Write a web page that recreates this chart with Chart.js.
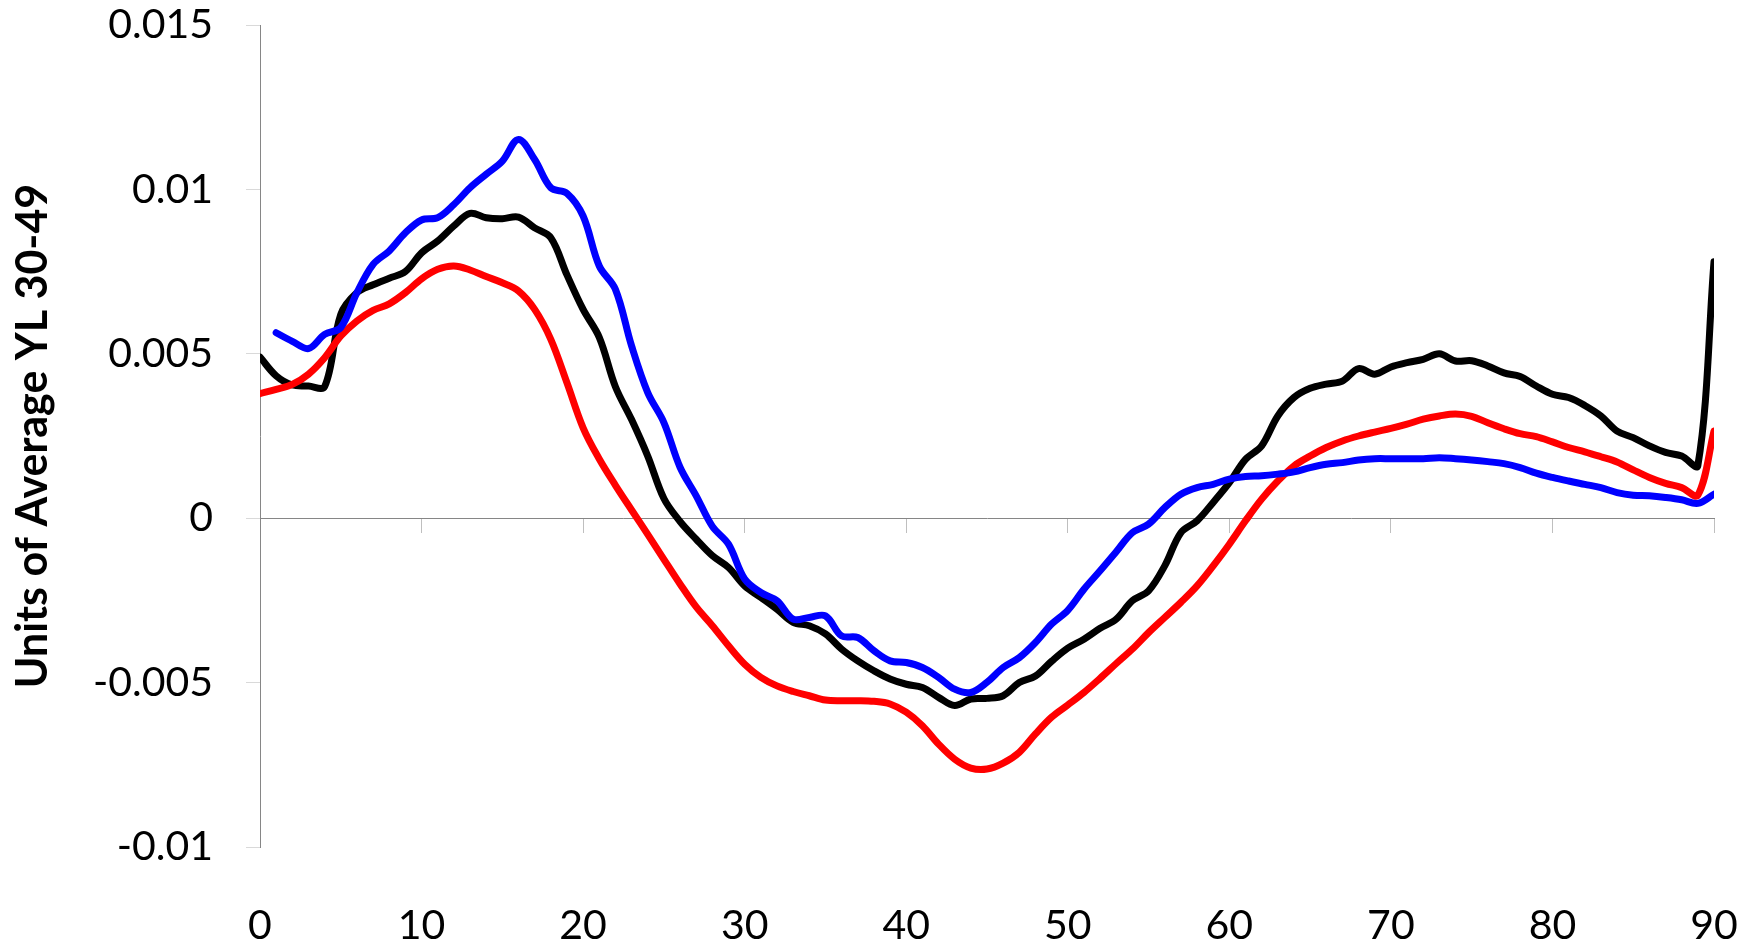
<!DOCTYPE html>
<html>
<head>
<meta charset="utf-8">
<script src="https://cdn.jsdelivr.net/npm/chart.js@4.4.0/dist/chart.umd.min.js"></script>
<style>
  html, body { margin: 0; padding: 0; background: #fff; }
  #wrap { width: 1754px; height: 946px; }
</style>
</head>
<body>
<div id="wrap"><canvas id="ylChart" width="1754" height="946"></canvas></div>
<script>
// ages on the x axis
const ages = [
    0, 1, 2, 3, 4, 5, 6, 7, 8, 9,
    10, 11, 12, 13, 14, 15, 16, 17, 18, 19,
    20, 21, 22, 23, 24, 25, 26, 27, 28, 29,
    30, 31, 32, 33, 34, 35, 36, 37, 38, 39,
    40, 41, 42, 43, 44, 45, 46, 47, 48, 49,
    50, 51, 52, 53, 54, 55, 56, 57, 58, 59,
    60, 61, 62, 63, 64, 65, 66, 67, 68, 69,
    70, 71, 72, 73, 74, 75, 76, 77, 78, 79,
    80, 81, 82, 83, 84, 85, 86, 87, 88, 89,
    90
];

// black curve
const blackSeries = [
    0.0049, 0.00433, 0.00405, 0.00402, 0.0040, 0.0062, 0.00686, 0.0071, 0.0073, 0.0075,
    0.00807, 0.00843, 0.00889, 0.00927, 0.00914, 0.00911, 0.00916, 0.00883, 0.00853, 0.0074,
    0.00635, 0.0055, 0.0040, 0.0030, 0.00189, 0.0006, -0.0001, -0.00064, -0.00114, -0.0015,
    -0.00206, -0.00241, -0.00277, -0.00317, -0.00327, -0.00352, -0.00398, -0.00434, -0.00464, -0.00489,
    -0.00505, -0.00515, -0.00545, -0.0057, -0.0055, -0.00548, -0.0054, -0.0050, -0.0048, -0.00435,
    -0.00395, -0.00368, -0.00335, -0.00307, -0.00251, -0.00221, -0.00145, -0.00044, -0.00008, 0.00048,
    0.00108, 0.00179, 0.0022, 0.00311, 0.00367, 0.00395, 0.00408, 0.00417, 0.00455, 0.00438,
    0.0046, 0.00473, 0.00483, 0.0050, 0.00478, 0.00479, 0.00463, 0.00442, 0.00431, 0.00402,
    0.00377, 0.00367, 0.00343, 0.00311, 0.00265, 0.00245, 0.0022, 0.0020, 0.00189, 0.0016,
    0.0078
];

// red curve
const redSeries = [
    0.00379, 0.00392, 0.00407, 0.00438, 0.00488, 0.00554, 0.0060, 0.00632, 0.00652, 0.00686,
    0.00728, 0.00757, 0.00767, 0.00755, 0.00735, 0.00716, 0.00691, 0.00635, 0.00544, 0.00412,
    0.00275, 0.0018, 0.0010, 0.00025, -0.00049, -0.00125, -0.0020, -0.0027, -0.00327, -0.00388,
    -0.00444, -0.00484, -0.0051, -0.00527, -0.0054, -0.00553, -0.00555, -0.00555, -0.00557, -0.00565,
    -0.0059, -0.00631, -0.00687, -0.00733, -0.0076, -0.00763, -0.00745, -0.00712, -0.00656, -0.00605,
    -0.00568, -0.0053, -0.00487, -0.00442, -0.00398, -0.00348, -0.00302, -0.00256, -0.00206, -0.00145,
    -0.00079, -0.00008, 0.00058, 0.00113, 0.00159, 0.00189, 0.00215, 0.00235, 0.0025, 0.00262,
    0.00273, 0.00286, 0.00301, 0.00311, 0.00317, 0.0031, 0.0029, 0.00272, 0.00257, 0.00248,
    0.00232, 0.00215, 0.00202, 0.00187, 0.00171, 0.00147, 0.00124, 0.00106, 0.00093, 0.0007,
    0.00265
];

// blue curve (no value at age 0)
const blueSeries = [
    null, 0.00564, 0.00538, 0.00516, 0.00559, 0.0058, 0.00686, 0.00772, 0.00813, 0.00868,
    0.00907, 0.00914, 0.00954, 0.01005, 0.01046, 0.01086, 0.01152, 0.01091, 0.01005, 0.00988,
    0.00919, 0.00767, 0.00696, 0.00524, 0.00382, 0.00291, 0.00155, 0.00068, -0.00025, -0.00079,
    -0.00185, -0.00226, -0.00251, -0.00307, -0.00302, -0.00297, -0.00358, -0.00363, -0.00403, -0.00434,
    -0.00439, -0.00454, -0.00484, -0.0052, -0.0053, -0.00499, -0.00454, -0.00424, -0.00378, -0.00322,
    -0.0028, -0.00216, -0.0016, -0.00102, -0.00044, -0.00018, 0.00032, 0.00073, 0.00093, 0.00103,
    0.00119, 0.00127, 0.00129, 0.00134, 0.00141, 0.00154, 0.00164, 0.00169, 0.00177, 0.00181,
    0.00181, 0.00181, 0.00181, 0.00184, 0.00181, 0.00177, 0.00172, 0.00166, 0.00154, 0.00137,
    0.00124, 0.00113, 0.00103, 0.00093, 0.00078, 0.0007, 0.00068, 0.00063, 0.00056, 0.00045,
    0.00073
];

const xTickValues = [0, 10, 20, 30, 40, 50, 60, 70, 80, 90];
const yTickValues = [-0.01, -0.005, 0, 0.005, 0.01, 0.015];
const yTickLabels = ['-0.01', '-0.005', '0', '0.005', '0.01', '0.015'];
const yAxisTitle = 'Units of Average YL 30-49';

function toPoints(values) {
    return ages.map((age, i) => ({ x: age, y: values[i] }));
}

function fixedTicks(values) {
    return function(scale) {
        scale.ticks = values.map(v => ({ value: v }));
    };
}

const tickFont = { family: 'Lato', size: 41 };

function lineSet(label, values, color) {
    return {
        label: label,
        data: toPoints(values),
        borderColor: color,
        backgroundColor: color,
        borderWidth: 7,
        pointRadius: 0,
        tension: 0.35,
        fill: false,
        borderCapStyle: 'round',
        borderJoinStyle: 'round'
    };
}

new Chart(document.getElementById('ylChart'), {
    type: 'line',
    data: {
        // first dataset is painted last (on top)
        datasets: [
            lineSet('blue', blueSeries, '#0000ff'),
            lineSet('red', redSeries, '#ff0000'),
            lineSet('black', blackSeries, '#000000')
        ]
    },
    options: {
        responsive: false,
        animation: false,
        devicePixelRatio: 1,
        layout: { padding: { left: 0, top: 25, right: 40, bottom: 0 } },
        plugins: {
            legend: { display: false },
            tooltip: { enabled: false }
        },
        scales: {
            // axis line that crosses at y = 0, tick marks only
            x: {
                type: 'linear',
                min: 0,
                max: 90,
                position: { y: 0 },
                afterBuildTicks: fixedTicks(xTickValues),
                ticks: { display: false },
                grid: {
                    drawOnChartArea: false,
                    drawTicks: true,
                    tickLength: 14,
                    color: '#bfbfbf'
                },
                border: { display: true, color: '#868686', width: 1 },
                afterFit: function(s) {
                    s.paddingLeft = 0; s.paddingRight = 0;
                    s.paddingTop = 0; s.paddingBottom = 0;
                }
            },
            // labels along the bottom
            xLabels: {
                type: 'linear',
                axis: 'x',
                position: 'bottom',
                min: 0,
                max: 90,
                afterBuildTicks: fixedTicks(xTickValues),
                ticks: {
                    padding: 54,
                    font: tickFont,
                    color: '#000000',
                    autoSkip: false,
                    maxRotation: 0,
                    callback: function(value) { return String(value); }
                },
                grid: { display: false, drawTicks: false },
                border: { display: false },
                afterFit: function(s) {
                    s.height = 99;
                    s.paddingLeft = 0; s.paddingRight = 0;
                }
            },
            y: {
                type: 'linear',
                position: 'left',
                min: -0.01,
                max: 0.015,
                afterBuildTicks: fixedTicks(yTickValues),
                ticks: {
                    padding: 33,
                    font: tickFont,
                    color: '#000000',
                    autoSkip: false,
                    callback: function(value) {
                        return yTickLabels[yTickValues.indexOf(value)];
                    }
                },
                grid: {
                    drawOnChartArea: false,
                    drawTicks: true,
                    tickLength: 14,
                    color: '#d9d9d9'
                },
                border: { display: true, color: '#868686', width: 1 },
                title: {
                    display: true,
                    text: yAxisTitle,
                    color: '#000000',
                    font: { family: 'Lato', weight: 'bold', size: 43 },
                    padding: { top: 7, bottom: 0 }
                },
                afterFit: function(s) {
                    s.width = 260;
                    s.paddingTop = 0; s.paddingBottom = 0;
                }
            }
        }
    }
});
</script>
</body>
</html>
